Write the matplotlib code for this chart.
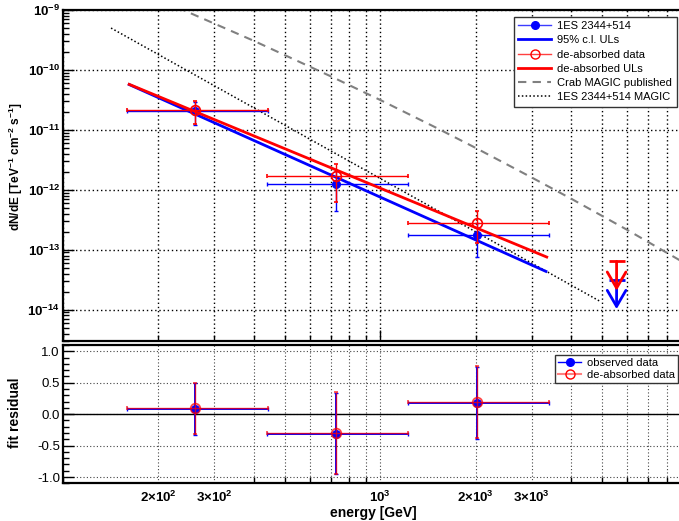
import matplotlib
matplotlib.use('Agg')
import matplotlib.pyplot as plt
import numpy as np
from matplotlib.lines import Line2D
from matplotlib.ticker import FixedLocator, FixedFormatter, NullFormatter, LogLocator

plt.rcParams['font.family'] = ['Liberation Sans', 'DejaVu Sans']
plt.rcParams['mathtext.fontset'] = 'custom'
plt.rcParams['mathtext.rm'] = 'Liberation Sans:bold'
plt.rcParams['mathtext.bf'] = 'Liberation Sans:bold'
plt.rcParams['mathtext.it'] = 'Liberation Sans:bold:italic'
plt.rcParams['mathtext.default'] = 'rm'

# ---------------- data ----------------
energy = [261, 727, 2016]            # GeV, bin centres
e_low = [159, 441, 1228]             # bin lower edges
e_high = [443, 1225, 3414]           # bin upper edges

obs_flux = [2.08e-11, 1.24e-12, 1.76e-13]
obs_err = [0.87e-11, 0.80e-12, 1.01e-13]
deabs_flux = [2.12e-11, 1.67e-12, 2.82e-13]
deabs_err = [0.87e-11, 1.04e-12, 1.54e-13]

ul_energy = [5560]
ul_obs = [3.16e-14]
ul_deabs = [6.4e-14]

fit_obs_E = [162, 3330]
fit_obs_flux = [5.7e-11, 4.35e-14]
fit_deabs_E = [162, 3350]
fit_deabs_flux = [5.75e-11, 7.55e-14]

magic_E = [142, 4940]
magic_flux = [5.0e-10, 1.37e-14]

crab_E = [230, 400, 700, 1000, 1500, 2000, 3000, 4000, 6000, 10000]
crab_flux = [1.1e-9, 3.06e-10, 7.8e-11, 3.16e-11, 1.09e-11, 5.0e-12,
             1.61e-12, 7.1e-13, 2.15e-13, 4.5e-14]

res_obs = [0.08, -0.31, 0.18]
res_obs_err = [0.41, 0.65, 0.57]
res_deabs = [0.09, -0.30, 0.19]
res_deabs_err = [0.41, 0.65, 0.57]

xtick_vals = [200, 300, 1000, 2000, 3000]
xtick_labels = [r'$2{\times}10^{2}$', r'$3{\times}10^{2}$', r'$10^{3}$',
                r'$2{\times}10^{3}$', r'$3{\times}10^{3}$']
ytick_vals = [1e-14, 1e-13, 1e-12, 1e-11, 1e-10, 1e-9]
ytick_labels = [r'$10^{-14}$', r'$10^{-13}$', r'$10^{-12}$', r'$10^{-11}$',
                r'$10^{-10}$', r'$10^{-9}$']
rtick_vals = [-1.0, -0.5, 0.0, 0.5, 1.0]
rtick_labels = ['-1.0', '-0.5', '0.0', '0.5', '1.0']

# ---------------- figure ----------------
W, H = 679, 521
fig = plt.figure(figsize=(W / 100, H / 100), dpi=100)
ax1 = fig.add_axes([62.7 / W, 1 - 341 / H, 634.8 / W, 331 / H])
ax2 = fig.add_axes([62.7 / W, 1 - 483.3 / H, 634.8 / W, 138.3 / H])

E = np.array(energy)
xerr = [E - np.array(e_low), np.array(e_high) - E]

grid_top = dict(color='k', lw=1.0, ls=(0, (1, 2)))
grid_bot = dict(color='#444444', lw=0.8, ls=(0, (1, 2)))

for ax in (ax1, ax2):
    ax.set_xscale('log')
    ax.set_xlim(100, 1e4)
    ax.xaxis.set_major_locator(LogLocator(base=10, subs=(1.0,)))
    ax.xaxis.set_minor_locator(LogLocator(base=10, subs=np.arange(2, 10)))
    ax.xaxis.set_major_formatter(NullFormatter())
    ax.xaxis.set_minor_formatter(NullFormatter())
    for s in ax.spines.values():
        s.set_linewidth(1.6)
    ax.tick_params(which='both', direction='in', top=False, right=False,
                   width=1.0)
    ax.tick_params(which='major', length=8)
    ax.tick_params(which='minor', length=4)

# ---- top panel ----
ax1.set_yscale('log')
ax1.set_ylim(3e-15, 1e-9)
ax1.yaxis.set_major_locator(FixedLocator(ytick_vals))
ax1.yaxis.set_major_formatter(FixedFormatter(ytick_labels))
ax1.yaxis.set_minor_locator(LogLocator(base=10, subs=np.arange(2, 10), numticks=20))
ax1.yaxis.set_minor_formatter(NullFormatter())
ax1.tick_params(axis='y', which='major', labelsize=9.5, pad=2)
ax1.grid(True, which='both', axis='x', **grid_top)
ax1.grid(True, which='major', axis='y', **grid_top)
ax1.set_axisbelow(True)

ax1.plot(crab_E, crab_flux, color='#808080', lw=1.5, ls=(0, (4, 3)), zorder=2)
ax1.plot(magic_E, magic_flux, color='k', lw=1.1, ls=(0, (1, 1.5)), zorder=2)

ax1.errorbar(E, obs_flux, xerr=xerr, yerr=obs_err, fmt='o', color='blue',
             ms=5.5, lw=1.0, capsize=1.5, zorder=3)
ax1.plot(fit_obs_E, fit_obs_flux, color='blue', lw=2, zorder=4)

ax1.errorbar(E, deabs_flux, xerr=xerr, yerr=deabs_err, fmt='o', color='red',
             mfc='none', mec='red', mew=1.2, ms=7, lw=1.0, capsize=1.5, zorder=5)
ax1.plot(fit_deabs_E, fit_deabs_flux, color='red', lw=2, zorder=6)

for ul_vals, col, z in ((ul_obs, 'blue', 7), (ul_deabs, 'red', 8)):
    for e, u in zip(ul_energy, ul_vals):
        ax1.annotate('', xy=(e, u / 3.1), xytext=(e, u),
                     arrowprops=dict(arrowstyle='->,head_length=0.55,head_width=0.32',
                                     color=col, lw=2, shrinkA=0, shrinkB=0,
                                     mutation_scale=21), zorder=z)
        ax1.plot([e], [u], marker='_', ms=11, mew=2, color=col, zorder=z)

handles = [
    Line2D([], [], color='#3c3cff', lw=1, marker='o', mfc='blue', mec='blue', ms=5.5),
    Line2D([], [], color='blue', lw=2),
    Line2D([], [], color='#ff4040', lw=1, marker='o', mfc='none', mec='red', ms=6.5),
    Line2D([], [], color='red', lw=2),
    Line2D([], [], color='#808080', lw=1.5, ls=(0, (4, 3))),
    Line2D([], [], color='k', lw=1.1, ls=(0, (1, 1.5))),
]
labels = ['1ES 2344+514', '95% c.l. ULs', 'de-absorbed data', 'de-absorbed ULs',
          'Crab MAGIC published', '1ES 2344+514 MAGIC']
leg1 = ax1.legend(handles, labels, loc='upper right',
                  bbox_to_anchor=(676.7 / W, 1 - 16.7 / H),
                  bbox_transform=fig.transFigure, fontsize=8, frameon=True,
                  fancybox=False, edgecolor='#333333', framealpha=1,
                  borderpad=0.4, labelspacing=0.38, handlelength=2.9,
                  handletextpad=0.6, borderaxespad=0)
leg1.get_frame().set_linewidth(1.0)
leg1.set_zorder(20)

# ---- bottom panel ----
ax2.set_ylim(-1.1, 1.1)
ax2.yaxis.set_major_locator(FixedLocator(rtick_vals))
ax2.yaxis.set_major_formatter(FixedFormatter(rtick_labels))
ax2.yaxis.set_minor_locator(FixedLocator(np.round(np.arange(-1.1, 1.11, 0.1), 2)))
ax2.tick_params(axis='y', which='major', labelsize=9.5, pad=2)
ax2.grid(True, which='both', axis='x', **grid_bot)
ax2.grid(True, which='major', axis='y', **grid_bot)
ax2.set_axisbelow(True)
ax2.axhline(0, color='k', lw=1.0, zorder=2)

ax2.xaxis.set_major_locator(FixedLocator(xtick_vals))
ax2.xaxis.set_major_formatter(FixedFormatter(xtick_labels))
ax2.xaxis.set_minor_locator(LogLocator(base=10, subs=np.arange(1, 10)))
ax2.tick_params(axis='x', which='major', length=0, labelsize=9.5, pad=4.5)

ax2.errorbar(E, res_obs, xerr=xerr, yerr=res_obs_err, fmt='o', color='blue',
             ms=5.5, lw=1.4, capsize=1.5, zorder=3)
ax2.errorbar(E, res_deabs, xerr=xerr, yerr=res_deabs_err, fmt='o', color='red',
             mfc='none', mec='red', mew=1.2, ms=7, lw=1.0, capsize=1.5,
             alpha=0.75, zorder=4)

h_res = [
    Line2D([], [], color='blue', lw=1, marker='o', mfc='blue', mec='blue', ms=5.5),
    Line2D([], [], color='#ff8080', lw=1.5, marker='o', mfc='none', mec='red', ms=6.5),
]
leg2 = ax2.legend(h_res, ['observed data', 'de-absorbed data'], loc='upper right',
                  bbox_to_anchor=(677.7 / W, 1 - 355 / H),
                  bbox_transform=fig.transFigure, fontsize=8, frameon=True,
                  fancybox=False, edgecolor='#333333', framealpha=1,
                  borderpad=0.25, labelspacing=0.2, handlelength=2.1,
                  handletextpad=0.5, borderaxespad=0)
leg2.get_frame().set_linewidth(1.0)

# ---- axis titles ----
fig.text(16 / W, 1 - 167 / H, r'dN/dE [TeV$^{-1}$ cm$^{-2}$ s$^{-1}$]',
         rotation=90, ha='center', va='center', fontsize=8.6, fontweight='bold')
fig.text(15 / W, 1 - 413 / H, 'fit residual', rotation=90, ha='center',
         va='center', fontsize=10, fontweight='bold')
fig.text(417 / W, 1 - 513 / H, 'energy [GeV]', ha='right', va='center',
         fontsize=10, fontweight='bold')

fig.savefig('out.png', dpi=100)
